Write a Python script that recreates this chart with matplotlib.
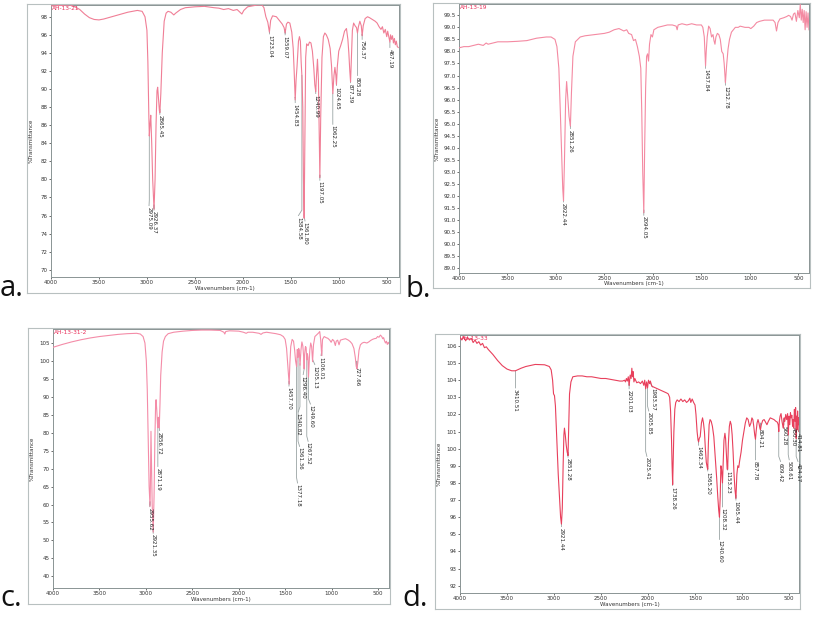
import matplotlib
matplotlib.use("Agg")
import matplotlib.pyplot as plt
import numpy as np

W, H = 813, 617

# ---- panel a: AH-13-21 ----
wn_a = [4000, 3900, 3800, 3750, 3700, 3650, 3600, 3550, 3500, 3450, 3400, 3300, 3200, 3100, 3050, 3020,
        3000, 2990, 2980, 2975, 2968, 2960, 2950, 2940, 2926, 2915, 2905, 2895, 2888, 2880, 2870, 2865,
        2855, 2840, 2820, 2800, 2780, 2750, 2720, 2700, 2650, 2600, 2500, 2400, 2300, 2250, 2200, 2150,
        2100, 2060, 2030, 2010, 1990, 1950, 1900, 1850, 1800, 1780, 1760, 1740, 1723, 1710, 1690, 1650,
        1620, 1590, 1570, 1559, 1545, 1530, 1510, 1490, 1475, 1465, 1454, 1445, 1435, 1420, 1410, 1400,
        1392, 1384, 1375, 1368, 1361, 1352, 1345, 1335, 1320, 1305, 1290, 1275, 1260, 1250, 1240, 1232,
        1222, 1212, 1205, 1197, 1188, 1175, 1160, 1145, 1130, 1110, 1090, 1075, 1062, 1050, 1040, 1030,
        1024, 1015, 1000, 980, 960, 940, 920, 905, 895, 885, 877, 868, 858, 845, 830, 815, 805, 795, 780,
        765, 756, 745, 725, 700, 680, 650, 620, 600, 580, 560, 545, 530, 515, 500, 490, 480, 470, 467,
        460, 450, 440, 430, 420, 410, 400, 390, 380]
t_a = [99.2, 99.25, 99.3, 99.1, 98.8, 98.3, 97.9, 97.7, 97.65, 97.75, 97.9, 98.2, 98.5, 98.7, 98.6, 98.0,
       96.5, 93.0, 87.0, 84.8, 86.0, 87.1, 84.0, 80.0, 76.7, 80.0, 86.0, 89.8, 90.2, 89.0, 87.6, 87.4,
       89.5, 94.0, 97.5, 98.4, 98.6, 98.5, 98.2, 98.4, 98.8, 99.0, 99.1, 99.15, 99.0, 98.95, 98.8, 98.9,
       98.7, 98.8, 98.5, 98.3, 98.7, 99.1, 99.2, 99.3, 99.3, 99.0, 98.0, 97.4, 96.3, 97.6, 98.1, 98.0,
       97.6, 97.2, 96.8, 96.2, 97.2, 97.4, 97.3, 96.3, 94.5, 92.0, 88.8, 91.0, 92.5, 95.3, 95.8, 95.3,
       93.0, 91.4, 88.0, 80.0, 75.7, 86.0, 93.5, 95.0, 94.8, 95.2, 95.1, 94.2, 92.3, 90.5, 89.7, 91.5,
       93.3, 91.0, 86.0, 80.2, 87.0, 93.5, 95.8, 96.2, 96.0, 95.5, 94.5, 92.5, 89.5, 91.5, 92.4, 91.5,
       90.5, 92.5, 94.2, 94.8, 95.5, 96.4, 96.7, 95.5, 94.0, 92.0, 90.8, 93.5, 96.5, 97.3, 97.0, 96.8, 96.2, 96.9, 97.5,
       97.0, 95.9, 97.0, 97.8, 98.0, 97.9, 97.7, 97.5, 97.3, 96.9, 96.6, 96.9, 96.2, 96.6, 95.8, 96.4, 95.9, 95.4, 95.2,
       96.0, 95.5, 95.9, 95.1, 95.6, 94.9, 95.3, 94.7, 94.6]
pk_a = ["2975.09", "2926.37", "2865.45", "1723.04", "1559.07", "1454.83", "1384.58", "1361.80",
        "1240.99", "1197.05", "1062.25", "1024.65", "877.39", "805.28", "756.37", "467.19"]
lx_a = [2978, 2926, 2865, 1723, 1559, 1454, 1420, 1352, 1240, 1197, 1062, 1024, 877, 805, 756, 467]
ly_a = [77.1, 76.6, 87.2, 96.1, 96.0, 88.5, 76.0, 75.4, 89.5, 79.9, 86.1, 90.4, 90.7, 91.5, 95.5, 94.6]

# ---- panel b: AH-13-19 ----
wn_b = [4000, 3950, 3900, 3850, 3800, 3750, 3720, 3700, 3650, 3600, 3500, 3400, 3300, 3250, 3200, 3100,
        3050, 3010, 2990, 2970, 2955, 2940, 2930, 2922, 2912, 2900, 2890, 2880, 2865, 2851, 2840, 2825,
        2800, 2750, 2700, 2600, 2500, 2450, 2400, 2350, 2300, 2270, 2250, 2220, 2200, 2180, 2160, 2140,
        2125, 2115, 2105, 2094, 2085, 2075, 2065, 2055, 2045, 2035, 2020, 2005, 1990, 1950, 1900, 1850,
        1800, 1760, 1750, 1740, 1700, 1650, 1600, 1550, 1500, 1485, 1470, 1462, 1457, 1450, 1440, 1425,
        1410, 1395, 1380, 1370, 1360, 1350, 1335, 1320, 1305, 1290, 1275, 1265, 1252, 1240, 1225, 1210,
        1190, 1150, 1120, 1100, 1050, 1010, 990, 960, 930, 900, 850, 800, 760, 740, 725, 710, 690, 650,
        620, 600, 580, 565, 550, 535, 520, 505, 490, 480, 470, 460, 450, 440, 430, 420, 410, 400, 390]
t_b = [98.15, 98.2, 98.2, 98.25, 98.3, 98.25, 98.35, 98.3, 98.35, 98.4, 98.4, 98.42, 98.45, 98.5, 98.55, 98.6,
       98.6, 98.5, 98.2, 97.3, 95.5, 93.5, 92.3, 91.8, 93.5, 96.0, 96.75, 96.2, 95.3, 94.9, 96.3, 97.8,
       98.4, 98.6, 98.65, 98.7, 98.75, 98.8, 98.9, 98.95, 98.85, 98.9, 98.75, 98.7, 98.45, 98.5, 98.2, 97.8,
       97.3, 95.5, 93.0, 91.3, 94.0, 96.5, 97.8, 97.9, 97.6, 98.3, 98.7, 98.6, 98.9, 99.0, 99.05, 99.1,
       99.1, 99.05, 98.9, 99.1, 99.15, 99.1, 99.15, 99.1, 99.1, 99.0, 98.6, 97.8, 97.4, 98.0, 98.6, 99.05,
       98.95, 98.6, 98.7, 98.45, 98.3, 98.6, 98.75, 98.7, 98.5, 98.0, 97.9, 97.5, 96.7, 97.4, 98.1, 98.5,
       98.8, 99.0, 99.0, 99.05, 99.0, 99.0, 98.95, 99.05, 99.2, 99.25, 99.3, 99.3, 99.3, 99.2, 98.85, 99.2, 99.35, 99.4,
       99.45, 99.5, 99.45, 99.3, 99.55, 99.6, 99.25, 99.7, 99.4, 99.95, 99.3, 99.75, 99.2, 99.7, 98.9, 99.65, 99.0, 99.6, 98.9]
pk_b = ["2922.44", "2851.26", "2094.05", "1457.84", "1252.78"]
lx_b = [2922, 2851, 2094, 1457, 1252]
ly_b = [91.75, 94.8, 91.2, 97.3, 96.6]

# ---- panel c: AH-13-31-2 ----
wn_c = [4000, 3900, 3800, 3700, 3600, 3500, 3400, 3300, 3200, 3100, 3060, 3030, 3010, 2995, 2985, 2975,
        2965, 2955, 2950, 2945, 2940, 2932, 2921, 2912, 2903, 2895, 2890, 2882, 2875, 2871, 2865, 2860,
        2856, 2848, 2840, 2825, 2810, 2790, 2760, 2700, 2600, 2500, 2400, 2300, 2200, 2160, 2150, 2140,
        2100, 2000, 1950, 1920, 1900, 1850, 1780, 1760, 1740, 1700, 1650, 1600, 1550, 1520, 1500, 1485,
        1470, 1457, 1450, 1440, 1425, 1410, 1398, 1388, 1377, 1370, 1365, 1361, 1355, 1348, 1340, 1330,
        1320, 1310, 1302, 1296, 1290, 1282, 1275, 1267, 1260, 1255, 1249, 1243, 1235, 1225, 1215, 1205,
        1195, 1180, 1160, 1140, 1128, 1118, 1106, 1098, 1080, 1060, 1040, 1020, 1005, 990, 975, 960, 950,
        935, 920, 905, 880, 850, 820, 800, 780, 760, 745, 735, 727, 718, 705, 690, 670, 650, 620, 600,
        580, 560, 540, 520, 505, 490, 475, 460, 450, 440, 430, 420, 410, 400, 390, 382]
t_c = [103.8, 104.6, 105.3, 105.9, 106.4, 106.8, 107.1, 107.4, 107.6, 107.7, 107.5, 106.8, 105.0, 100.0, 92.0, 78.0,
       65.0, 59.5, 68.0, 80.4, 72.0, 60.0, 52.3, 62.0, 78.0, 88.0, 89.2, 86.0, 82.5, 81.4, 84.3, 83.0,
       81.3, 88.0, 96.0, 102.5, 105.5, 106.8, 107.6, 108.0, 108.3, 108.5, 108.6, 108.6, 108.5, 108.0, 107.5, 108.2,
       108.4, 108.3, 108.0, 107.7, 108.0, 108.0, 107.7, 107.4, 107.8, 108.0, 107.8, 107.6, 107.3, 106.8, 106.0, 103.5,
       98.0, 93.5, 99.0, 104.0, 106.0, 105.5, 103.0, 100.0, 98.4, 103.2, 102.5, 101.0, 103.5, 103.0, 98.8, 103.0,
       105.3, 104.2, 101.5, 97.8, 102.0, 104.0, 103.8, 100.3, 102.0, 101.0, 95.5, 99.0, 103.0, 105.0, 104.0, 99.8,
       104.5, 106.8, 107.3, 107.8, 108.2, 106.0, 101.5, 106.0, 106.8, 106.5, 106.3, 105.8, 105.2, 106.0, 105.6, 104.3, 105.5,
       105.8, 104.5, 105.8, 106.0, 106.2, 105.8, 105.4, 104.8, 103.5, 101.0, 98.5, 97.8, 99.5, 103.0, 104.5, 105.0, 105.2, 105.0, 105.3,
       105.7, 106.0, 106.2, 106.3, 106.8, 106.6, 107.2, 106.8, 106.2, 106.5, 105.6, 105.0, 105.5, 104.6, 105.2, 104.8]
pk_c = ["2955.62", "2921.35", "2871.19", "2856.72", "1457.70", "1377.18", "1361.36", "1340.82",
        "1296.40", "1267.52", "1249.60", "1205.13", "1106.01", "727.66"]
lx_c = [2958, 2921, 2871, 2852, 1459, 1367, 1345, 1359, 1306, 1253, 1228, 1181, 1114, 727]
ly_c = [59.4, 52.0, 70.6, 80.6, 93.0, 66.0, 76.2, 85.8, 96.2, 77.6, 88.0, 99.0, 101.5, 98.5]

# ---- panel d ----
wn_d = [4000, 3980, 3960, 3940, 3920, 3900, 3880, 3860, 3840, 3820, 3800, 3780, 3760, 3740, 3720, 3700,
        3650, 3600, 3550, 3500, 3450, 3410, 3350, 3300, 3200, 3100, 3050, 3030, 3015, 3005, 2995, 2985,
        2970, 2955, 2940, 2930, 2921, 2912, 2903, 2895, 2889, 2880, 2870, 2860, 2851, 2843, 2835, 2820,
        2800, 2750, 2700, 2650, 2600, 2550, 2500, 2450, 2400, 2350, 2300, 2270, 2250, 2240, 2230, 2220,
        2210, 2201, 2190, 2180, 2172, 2165, 2158, 2150, 2140, 2120, 2100, 2080, 2060, 2045, 2035, 2025,
        2015, 2005, 1995, 1983, 1975, 1960, 1940, 1920, 1900, 1880, 1860, 1840, 1820, 1800, 1785, 1770,
        1760, 1750, 1744, 1738, 1732, 1725, 1715, 1705, 1690, 1670, 1650, 1630, 1610, 1590, 1570, 1555,
        1545, 1530, 1515, 1500, 1490, 1478, 1468, 1462, 1455, 1445, 1432, 1420, 1410, 1400, 1390, 1380,
        1370, 1365, 1358, 1350, 1340, 1328, 1315, 1300, 1285, 1270, 1258, 1248, 1240, 1232, 1225, 1218,
        1208, 1200, 1192, 1182, 1175, 1165, 1158, 1153, 1145, 1135, 1125, 1115, 1105, 1095, 1085, 1075,
        1065, 1055, 1045, 1035, 1025, 1010, 995, 980, 965, 950, 935, 920, 905, 895, 885, 875, 865, 857,
        850, 840, 830, 820, 810, 804, 795, 780, 765, 750, 735, 720, 700, 680, 660, 640, 625, 615, 609,
        603, 595, 585, 575, 565, 560, 552, 545, 535, 525, 515, 508, 500, 492, 485, 478, 470, 462, 455,
        450, 443, 436, 430, 424, 419, 414, 409, 404, 399, 394]
t_d = [106.5, 106.35, 106.55, 106.3, 106.5, 106.35, 106.45, 106.2, 106.35, 106.15, 106.25, 106.05, 106.15, 105.9, 105.95, 105.8,
       105.5, 105.15, 104.85, 104.65, 104.55, 104.55, 104.7, 104.8, 104.92, 104.9, 104.8, 104.6, 104.0, 103.2, 103.1, 102.5,
       100.5, 98.5, 97.0, 96.0, 95.6, 96.5, 99.0, 100.8, 101.2, 100.8, 100.2, 99.8, 99.6, 101.5, 103.2, 103.9,
       104.2, 104.25, 104.25, 104.2, 104.2, 104.15, 104.1, 104.1, 104.05, 104.0, 103.95, 103.95, 104.0, 103.9, 104.1, 103.95,
       104.2, 103.7, 104.3, 104.1, 104.7, 104.2, 104.5, 103.9, 104.1, 103.85, 103.9, 103.8, 103.95, 103.7, 104.0, 103.5,
       103.9, 103.55, 104.0, 103.8, 103.95, 103.65, 103.6, 103.55, 103.5, 103.45, 103.4, 103.35, 103.3, 103.25, 103.2, 103.0,
       102.2, 100.5, 99.0, 97.9, 99.3, 101.0, 102.3, 102.7, 102.85, 102.75, 102.9, 102.75, 102.85, 102.7, 102.8, 102.95,
       102.7, 102.9, 102.7, 102.55, 102.0, 101.0, 100.5, 100.4, 100.6, 100.7, 101.5, 101.8, 101.5, 101.0, 100.0, 99.2,
       98.9, 98.8, 100.3, 101.4, 101.7, 101.6, 101.3, 100.7, 99.5, 98.3, 97.2, 96.4, 96.0, 97.2, 99.0, 98.8,
       98.0, 99.3, 100.5, 100.9, 100.6, 99.5, 98.8, 98.8, 100.3, 101.3, 101.6, 101.4, 100.8, 99.8, 98.5, 97.6,
       97.1, 98.5, 99.0, 98.9, 99.3, 99.8, 100.5, 101.0, 101.5, 101.8, 101.7, 101.3, 101.5, 101.8, 101.7, 101.3, 100.8, 100.55,
       101.0, 101.5, 101.7, 101.5, 101.2, 101.1, 101.4, 101.65, 101.7, 101.55, 101.4, 101.6, 101.8, 101.75, 101.7, 101.6, 101.55, 101.4, 101.0,
       101.6, 101.9, 102.05, 101.6, 101.3, 101.2, 101.8, 101.6, 102.0, 101.7, 102.05, 100.8, 101.9, 101.4, 102.1, 101.8, 101.95, 101.3, 101.7,
       101.2, 102.3, 101.6, 102.4, 100.6, 101.9, 101.1, 102.2, 101.4, 101.8, 101.0]
pk_d = ["3410.51", "2921.44", "2851.28", "2201.03", "2025.41", "2005.85", "1983.57", "1738.26",
        "1462.34", "1365.20", "1240.60", "1208.32", "1153.23", "1065.44", "857.78", "804.21",
        "609.42", "560.28", "508.61", "450.30", "424.17", "414.81"]
lx_d = [3410, 2921, 2851, 2201, 2012, 1992, 1950, 1738, 1462, 1365, 1240, 1208, 1153, 1065, 857, 804,
        590, 555, 498, 455, 405, 398]
ly_d = [103.55, 95.45, 99.5, 103.5, 99.55, 102.2, 103.6, 97.85, 100.2, 98.7, 94.7, 96.6, 98.75, 97.0,
        99.35, 101.2, 99.25, 101.4, 99.35, 101.3, 99.25, 101.0]


def px(x0, y0, x1, y1):
    # pixel box (top-left origin) -> figure fraction rect
    return [x0 / W, 1 - y1 / H, (x1 - x0) / W, (y1 - y0) / H]


def draw_panel(outer, inner, wn, t, pk, lx, ly, xlim, ylim, yticks, yfmt, name, color):
    box = fig.add_axes(px(*outer))
    box.set_xticks([])
    box.set_yticks([])
    for s in box.spines.values():
        s.set_color("#b8c0c0")
        s.set_linewidth(0.8)

    ax = fig.add_axes(px(*inner))
    ax.plot(wn, t, color=color, lw=0.8, zorder=3)
    ax.set_xlim(*xlim)
    ax.set_ylim(*ylim)
    ax.set_xticks([4000, 3500, 3000, 2500, 2000, 1500, 1000, 500])
    ax.set_yticks(yticks)
    ax.set_yticklabels([yfmt % v for v in yticks])
    ax.tick_params(labelsize=4, length=1.5, width=0.5, pad=1, colors="#333333")
    for s in ax.spines.values():
        s.set_color("#8a9494")
        s.set_linewidth(0.7)

    wn_r = np.array(wn[::-1], dtype=float)
    t_r = np.array(t[::-1], dtype=float)
    for lab, x, y in zip(pk, lx, ly):
        p = float(lab)
        yp = np.interp(p, wn_r, t_r)
        ax.plot([p, p, x], [yp, y + 0.02 * (ylim[1] - ylim[0]), y], color="#9aa4a4", lw=0.6, zorder=2)
        ax.text(x, y - 0.004 * (ylim[1] - ylim[0]), lab, rotation=-90, ha="center", va="top",
                fontsize=4, color="#222222")

    ax.text(0.003, 0.995, name, transform=ax.transAxes, ha="left", va="top", fontsize=4.2,
            color="#e8305a")
    cx = (inner[0] + inner[2]) / 2
    fig.text(cx / W, 1 - (outer[3] - 2) / H, "Wavenumbers (cm-1)", ha="center", va="bottom",
             fontsize=4, color="#333333")
    fig.text((outer[0] + 2) / W, 1 - ((inner[1] + inner[3]) / 2) / H, "%Transmittance",
             rotation=90, ha="left", va="center", fontsize=4, color="#333333")


fig = plt.figure(figsize=(W / 100, H / 100), dpi=100)

draw_panel((27, 4, 400, 293), (51, 5, 399, 277), wn_a, t_a, pk_a, lx_a, ly_a,
           (4000, 372), (69.2, 99.3), list(range(70, 99, 2)), "%d", "AH-13-21", "#f07e96")
draw_panel((433, 3, 810, 288), (459, 4, 809, 273), wn_b, t_b, pk_b, lx_b, ly_b,
           (4000, 390), (88.8, 99.97), [89 + 0.5 * i for i in range(22)], "%.1f", "AH-13-19", "#f48aa2")
draw_panel((28, 328, 390, 604), (53, 329, 389, 588), wn_c, t_c, pk_c, lx_c, ly_c,
           (4000, 382), (36.75, 108.9), list(range(40, 106, 5)), "%d", "AH-13-31-2", "#f48ca8")
draw_panel((435, 334, 800, 609), (460, 335, 799, 593), wn_d, t_d, pk_d, lx_d, ly_d,
           (4000, 394), (91.57, 106.64), list(range(92, 107)), "%d", "AH-13-33", "#e8405c")

for s, x, y in [("a.", 0, 296), ("b.", 405, 297), ("c.", 0, 606), ("d.", 402, 606)]:
    fig.text(x / W, 1 - y / H, s, ha="left", va="baseline", fontsize=21, family="Open Sans",
             color="#111111")

fig.savefig("out.png", dpi=100)
